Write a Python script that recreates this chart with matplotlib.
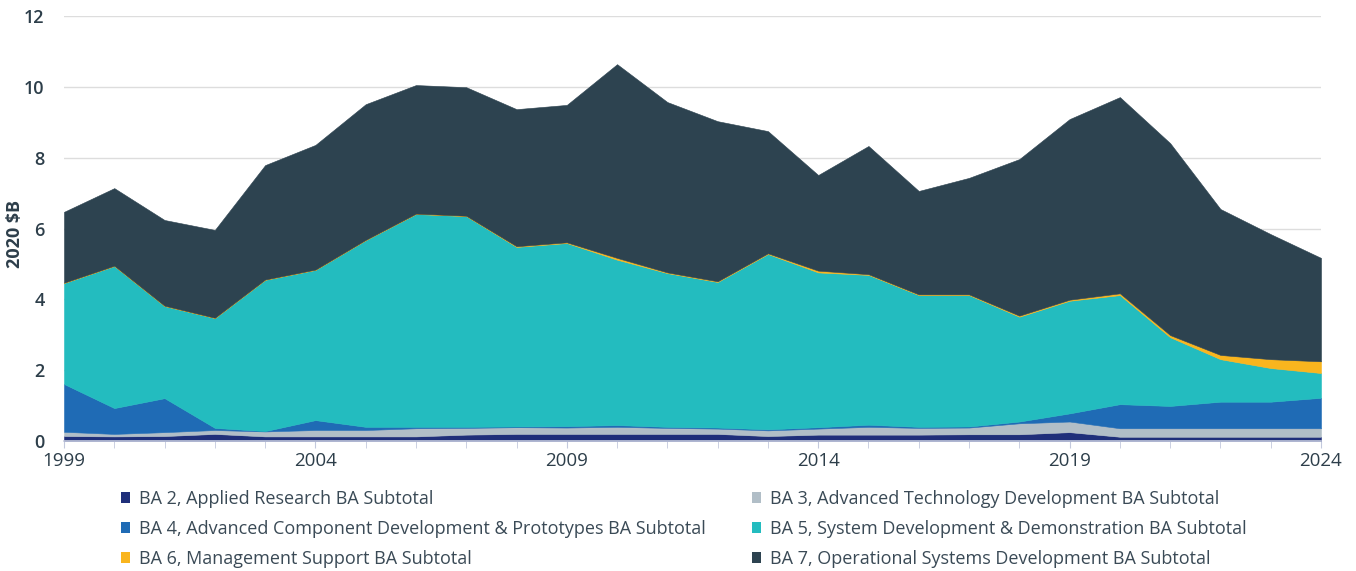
import matplotlib
matplotlib.use("Agg")
import matplotlib.pyplot as plt
from matplotlib.patches import Patch
import numpy as np

years = list(range(1999, 2025))
ba2 = [0.14,0.13,0.14,0.20,0.13,0.13,0.13,0.13,0.18,0.20,0.20,0.20,0.20,0.20,0.14,0.18,0.18,0.18,0.19,0.19,0.25,0.12,0.12,0.12,0.12,0.12]
ba3 = [0.12,0.07,0.11,0.11,0.14,0.18,0.18,0.23,0.19,0.19,0.18,0.20,0.17,0.15,0.16,0.17,0.22,0.19,0.19,0.31,0.30,0.24,0.24,0.24,0.24,0.24]
ba4 = [1.35,0.73,0.96,0.06,0.01,0.28,0.09,0.04,0.03,0.02,0.04,0.05,0.03,0.03,0.03,0.04,0.06,0.03,0.03,0.05,0.23,0.68,0.63,0.75,0.75,0.86]
ba5 = [2.85,4.01,2.60,3.10,4.27,4.24,5.27,6.01,5.95,5.07,5.17,4.67,4.34,4.11,4.95,4.37,4.23,3.72,3.71,2.96,3.18,3.08,1.94,1.20,0.95,0.70]
ba6 = [0.01,0.01,0.01,0.01,0.01,0.01,0.01,0.01,0.01,0.02,0.02,0.05,0.02,0.02,0.02,0.05,0.02,0.02,0.02,0.03,0.03,0.05,0.06,0.12,0.25,0.33]
totals = [6.47,7.14,6.24,5.96,7.79,8.36,9.51,10.05,9.99,9.37,9.49,10.64,9.57,9.03,8.75,7.51,8.33,7.06,7.43,7.96,9.09,9.71,8.41,6.55,5.84,5.17]
ba7 = [round(t - a - b - c - d - e, 2) for t, a, b, c, d, e in zip(totals, ba2, ba3, ba4, ba5, ba6)]

labels = [
    "BA 2, Applied Research BA Subtotal",
    "BA 3, Advanced Technology Development BA Subtotal",
    "BA 4, Advanced Component Development & Prototypes BA Subtotal",
    "BA 5, System Development & Demonstration BA Subtotal",
    "BA 6, Management Support BA Subtotal",
    "BA 7, Operational Systems Development BA Subtotal",
]
colors = ["#1f2f7a", "#b1bec7", "#1f6bb5", "#23bcbf", "#f9b51e", "#2d4350"]
text_color = "#2d3e4a"

plt.rcParams['font.family'] = ['Open Sans', 'DejaVu Sans']

fig = plt.figure(figsize=(13.56, 5.71), dpi=100)
ax = fig.add_axes([64/1356, 130/571, (1321-64)/1356, (441-16)/571])

series = [ba2, ba3, ba4, ba5, ba6, ba7]
polys = ax.stackplot(years, *series, colors=colors, linewidth=0.4)
for p, c in zip(polys, colors):
    p.set_edgecolor(c)

ax.set_xlim(1999, 2024)
ax.set_ylim(0, 12)
ax.set_yticks(range(0, 13, 2))
ax.set_xticks(range(1999, 2025), minor=True)
ax.set_xticks(range(1999, 2025, 5))
ax.grid(axis='y', color='#dddddd', linewidth=1)
ax.set_axisbelow(True)
for s in ['top', 'right', 'left']:
    ax.spines[s].set_visible(False)
ax.spines['bottom'].set_color('#c3c9dd')
ax.spines['bottom'].set_linewidth(1.2)
ax.spines['bottom'].set_zorder(5)
ax.tick_params(axis='x', which='both', length=5, color='#c3c9dd', labelsize=13.5, labelcolor=text_color, pad=3)
ax.tick_params(axis='y', length=0, labelsize=13, labelcolor=text_color, pad=14)
for lab in ax.get_yticklabels():
    lab.set_fontweight('semibold')
ax.set_ylabel("2020 $B", fontsize=13, fontweight='bold', color=text_color)
ax.yaxis.set_label_coords(-(64 - 24) / 1257, 0.488)

handles = [Patch(facecolor=c, edgecolor='none') for c in colors]
kw = dict(frameon=False, fontsize=13.0, labelcolor='#3a4a56', handlelength=0.52, handleheight=0.52,
          handletextpad=0.45, labelspacing=0.66, borderpad=0, borderaxespad=0, loc='upper left')
leg1 = fig.legend([handles[0], handles[2], handles[4]], [labels[0], labels[2], labels[4]],
                  bbox_to_anchor=(121/1356, 1 - 490/571), **kw)
leg2 = fig.legend([handles[1], handles[3], handles[5]], [labels[1], labels[3], labels[5]],
                  bbox_to_anchor=(752/1356, 1 - 490/571), **kw)

fig.savefig("out.png", dpi=100)
